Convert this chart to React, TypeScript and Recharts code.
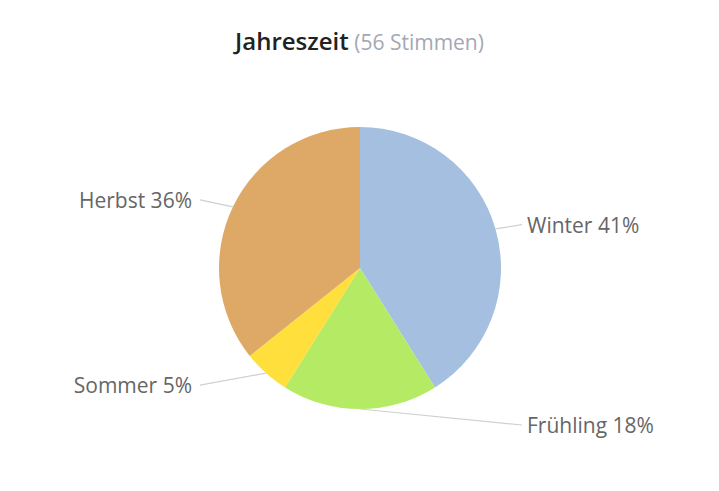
import React from "react";
import { PieChart, Pie, Cell } from "recharts";

const categories = ["Winter", "Frühling", "Sommer", "Herbst"];
const votes = [23, 10, 3, 20];
const colors = ["#a4bfdf", "#b5ea65", "#fedf3b", "#dea867"];
const titleMain = "Jahreszeit";
const titleSub = "(56 Stimmen)";

const data = categories.map((name, i) => ({ name, value: votes[i] }));

const RAD = Math.PI / 180;

const renderLabel = (props: any) => {
  const { cx, cy, midAngle, outerRadius, percent, name } = props;
  const cos = Math.cos(-midAngle * RAD);
  const sin = Math.sin(-midAngle * RAD);
  const ex = cx + outerRadius * cos;
  const ey = cy + outerRadius * sin;
  const right = cos >= 0;
  const lx = cx + (right ? 167 : -168);
  const ly = cy + (outerRadius + 16) * sin;
  const lineEnd = lx + (right ? -5 : 8);
  return (
    <g>
      <path d={`M${ex},${ey} L${lineEnd},${ly}`} stroke="#d0d0d0" strokeWidth={1.2} fill="none" />
      <text
        x={lx}
        y={ly}
        textAnchor={right ? "start" : "end"}
        dominantBaseline="central"
        fill="#666666"
        fontSize={21}
        fontFamily="'Open Sans', sans-serif"
      >
        {`${name} ${Math.round(percent * 100)}%`}
      </text>
    </g>
  );
};

export default function App() {
  return (
    <div style={{ position: "absolute", left: 0, top: 0, width: 719, height: 491, background: "#fff" }}>
      <div
        style={{
          position: "absolute",
          left: 0,
          top: 24,
          width: 719,
          textAlign: "center",
          fontFamily: "'Open Sans', sans-serif",
          whiteSpace: "nowrap",
        }}
      >
        <span style={{ fontSize: 24, fontWeight: 600, color: "#222" }}>{titleMain}</span>
        <span style={{ fontSize: 21, color: "#a3a8b4" }}> {titleSub}</span>
      </div>
      <PieChart width={719} height={491} margin={{ top: 0, right: 0, bottom: 0, left: 0 }}>
        <Pie
          data={data}
          dataKey="value"
          nameKey="name"
          cx={360}
          cy={268}
          outerRadius={141}
          startAngle={90}
          endAngle={-270}
          stroke="none"
          label={renderLabel}
          labelLine={false}
          isAnimationActive={false}
        >
          {data.map((d, i) => (
            <Cell key={d.name} fill={colors[i]} />
          ))}
        </Pie>
      </PieChart>
    </div>
  );
}
